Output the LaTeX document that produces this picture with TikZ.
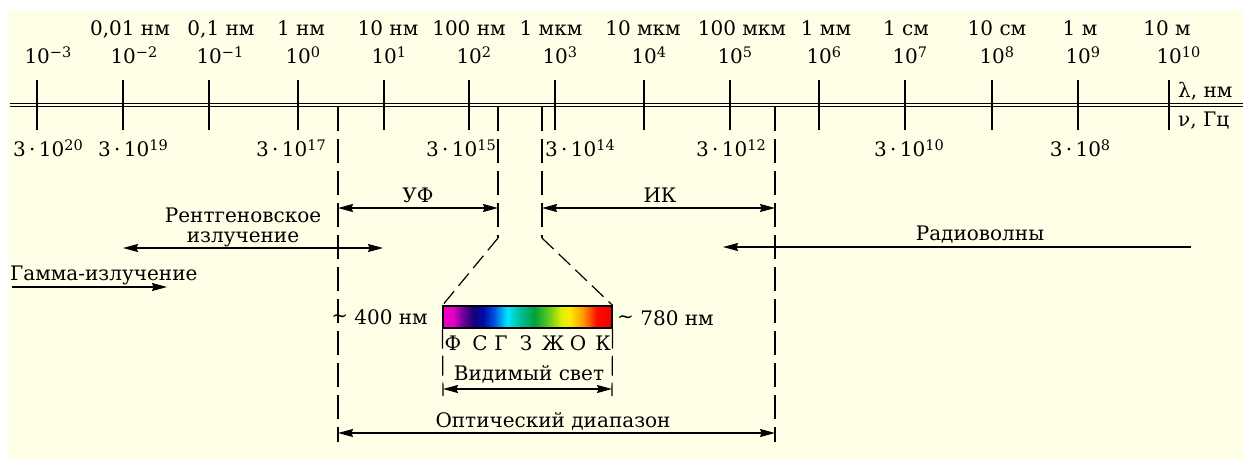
\documentclass[tikz,border=0pt]{standalone}
\usepackage{fontspec}
\setmainfont{DejaVu Serif}
\usetikzlibrary{arrows.meta}
\definecolor{bg}{RGB}{255,255,232}
\definecolor{s0}{RGB}{240,0,190}
\definecolor{s1}{RGB}{225,0,200}
\definecolor{s2}{RGB}{110,0,150}
\definecolor{s3}{RGB}{20,0,120}
\definecolor{s4}{RGB}{0,10,170}
\definecolor{s5}{RGB}{0,80,225}
\definecolor{s6}{RGB}{0,230,255}
\definecolor{s7}{RGB}{0,190,150}
\definecolor{s8}{RGB}{0,160,60}
\definecolor{s9}{RGB}{90,200,30}
\definecolor{s10}{RGB}{220,240,0}
\definecolor{s11}{RGB}{255,235,0}
\definecolor{s12}{RGB}{255,150,0}
\definecolor{s13}{RGB}{255,10,0}
\definecolor{s14}{RGB}{240,0,0}
\pgfdeclarehorizontalshading{spectrum}{100bp}{color(0bp)=(s0); color(25bp)=(s0);
 color(28bp)=(s1); color(31bp)=(s2); color(34bp)=(s3); color(37bp)=(s4);
 color(40bp)=(s5); color(44bp)=(s6); color(48bp)=(s7); color(52bp)=(s8);
 color(56bp)=(s9); color(60bp)=(s10); color(62.5bp)=(s11); color(66.5bp)=(s12);
 color(70.5bp)=(s13); color(75bp)=(s14); color(100bp)=(s14)}
\newcommand\sups[1]{\raisebox{6pt}{\fontsize{14.5}{14.5}\selectfont #1}}
\tikzset{
 ln/.style={line width=1.2pt},
 dsh/.style={ln, dash pattern=on 24pt off 8pt},
 dshs/.style={ln, dash pattern=on 16pt off 7pt},
 arr/.style={ln, -{Stealth[length=15pt,width=8pt,inset=1.5pt]}},
 darr/.style={ln, {Stealth[length=15pt,width=8pt,inset=1.5pt]}-{Stealth[length=15pt,width=8pt,inset=1.5pt]}},
 lbl/.style={inner sep=0pt, font=\fontsize{20}{24}\selectfont},
}
\begin{document}
\begin{tikzpicture}[x=1pt,y=-1pt]
\useasboundingbox (0,0) rectangle (1243,459);
\fill[bg] (8,10) rectangle (1243,459);
% axis
\draw[ln] (10,103.3) -- (1243,103.3);
\draw[ln] (10,106.7) -- (1243,106.7);
% major ticks and exponents
\foreach \x/\e [count=\i] in {37/−3,123/−2,209/−1,298/0,384/1,469/2,555/3,644/4,730/5,819/6,905/7,992/8,1078/9,1169/10}{
  \draw[ln] (\x,80) -- (\x,130);
  \node[lbl, anchor=base west] (e\i) at (\x-12.7,63) {10\sups{\e}};
}
% wavelength labels
\foreach \x/\t [count=\i] in {130/{0,01 нм},221/{0,1 нм},301/{1 нм},388/{10 нм},469/{100 нм},551/{1 мкм},643/{10 мкм},742/{100 мкм},826/{1 мм},906/{1 см},997/{10 см},1080/{1 м},1167/{10 м}}{
  \node[lbl, anchor=base] (w\i) at (\x,35) {\t};
}
% frequency labels
\foreach \x/\e [count=\i] in {48/20,133/19,291/17,461/15,580/14,731/12,909/10,1080/8}{
  \node[lbl, anchor=base] (f\i) at (\x,156) {3\,·\,10\sups{\e}};
}
\node[lbl, anchor=base west] (lam) at (1178,97) {λ, нм};
\node[lbl, anchor=base west] (nu) at (1178,126) {ν, Гц};
% spectrum bar
\node[draw, ln, shade, shading=spectrum, minimum width=169pt, minimum height=22pt, inner sep=0pt] (bar) at (527.5,317) {};
% dashed boundaries
\coordinate (d1t) at (338,107); \coordinate (d1b) at (338,442);
\coordinate (d4t) at (775,107); \coordinate (d4b) at (775,442);
\coordinate (d2t) at (498,107); \coordinate (d2b) at (498,238);
\coordinate (d3t) at (542,107); \coordinate (d3b) at (542,238);
\draw[dsh] (d1t) -- (d1b);
\draw[dsh] (d4t) -- (d4b);
\draw[dsh] (d2t) -- (d2b);
\draw[dsh] (d3t) -- (d3b);
\draw[dshs] (d2b) -- (bar.north west);
\draw[dshs] (d3b) -- (bar.north east);
\coordinate (v1) at (443,396); \coordinate (v2) at (612,396);
\draw[ln, dash pattern=on 20pt off 7pt] (bar.south west) -- (v1);
\draw[ln, dash pattern=on 20pt off 7pt] (bar.south east) -- (v2);
% UV and IR
\coordinate (uvl) at (338,208); \coordinate (uvr) at (498,208);
\coordinate (irl) at (542,208); \coordinate (irr) at (775,208);
\draw[darr] (uvl) -- (uvr);
\draw[darr] (irl) -- (irr);
\node[lbl, anchor=base] (uv) at (418,202) {УФ};
\node[lbl, anchor=base] (ir) at (660,202) {ИК};
% X-ray
\coordinate (xl) at (123,248); \coordinate (xr) at (383,248);
\draw[darr] (xl) -- (xr);
\node[lbl, anchor=base] (x1) at (243,222) {Рентгеновское};
\node[lbl, anchor=base] (x2) at (243,242) {излучение};
% gamma
\coordinate (gl) at (12,287); \coordinate (gr) at (167,287);
\draw[arr] (gl) -- (gr);
\node[lbl, anchor=base west] (g) at (10,280) {Гамма-излучение};
% radio
\coordinate (rl) at (723,247); \coordinate (rr) at (1191,247);
\draw[arr] (rr) -- (rl);
\node[lbl, anchor=base] (r) at (980,240) {Радиоволны};
% visible
\node[lbl, anchor=base east] (n400) at (428,324) {\raisebox{2pt}{\char"7E}\ 400 нм};
\node[lbl, anchor=base west] (n780) at (617,325) {\raisebox{2pt}{\char"7E}\ 780 нм};
\foreach \x/\t [count=\i] in {453/Ф,480/С,501/Г,526/З,553/Ж,578/О,603/К}{
  \node[lbl, anchor=base] (c\i) at (\x,350) {\t};
}
\coordinate (vl) at (443,389); \coordinate (vr) at (612,389);
\draw[darr] (vl) -- (vr);
\node[lbl, anchor=base] (vis) at (529,380) {Видимый свет};
% optical
\coordinate (ol) at (338,433); \coordinate (or) at (775,433);
\draw[darr] (ol) -- (or);
\node[lbl, anchor=base] (opt) at (553,427) {Оптический диапазон};
\end{tikzpicture}
\end{document}
